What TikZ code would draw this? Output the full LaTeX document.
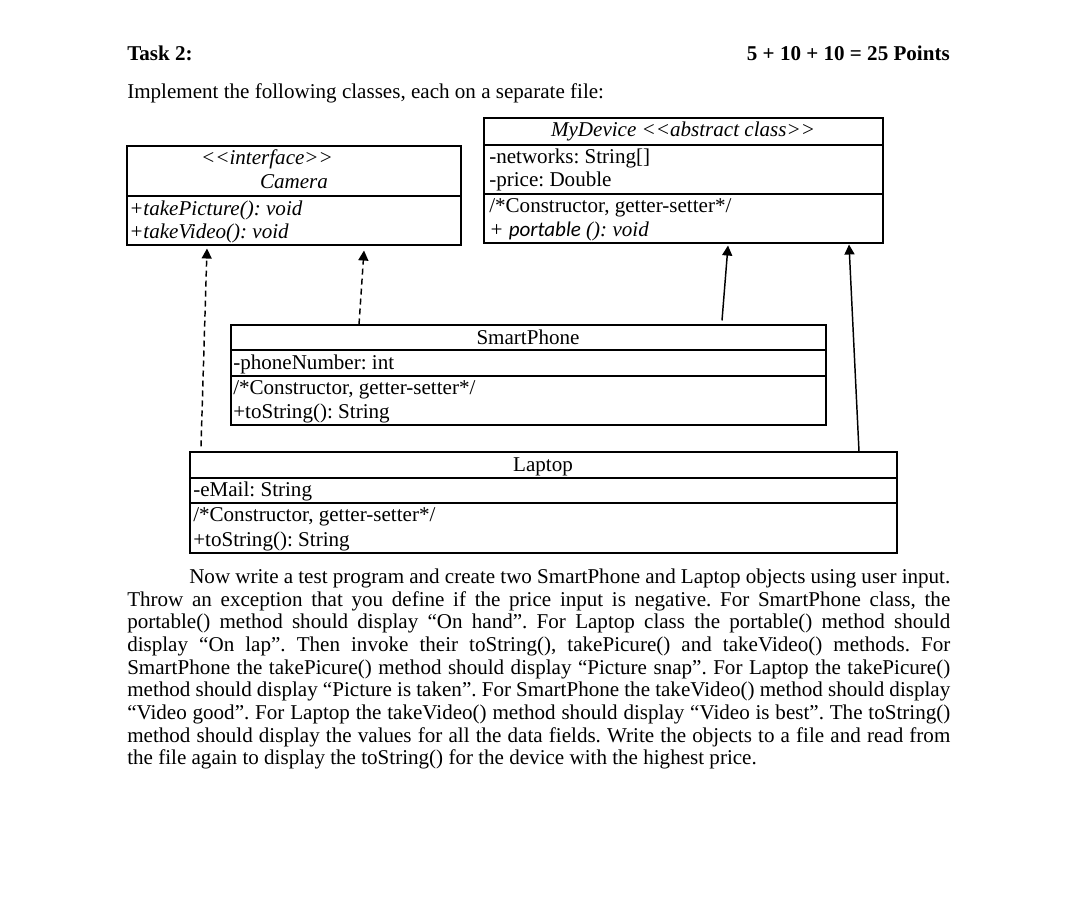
\documentclass[tikz,border=0pt]{standalone}
\usepackage{fontspec}
\setmainfont{Liberation Serif}
\newfontfamily\calib{Carlito}
\usetikzlibrary{arrows.meta,fit,calc}
\newcommand{\fz}{\fontsize{15.8pt}{17pt}\selectfont}
\newcommand{\ltlt}{<\kern0pt<}
\newcommand{\gtgt}{>\kern0pt>}
\frenchspacing
\begin{document}
\begin{tikzpicture}[x=0.75pt,y=-0.75pt,
  txt/.style={anchor=base west,inner sep=0pt,font=\fz},
  ctxt/.style={anchor=base,inner sep=0pt,font=\fz},
  umlbox/.style={draw,line width=0.8pt,inner sep=0pt},
  divider/.style={line width=0.8pt},
  real/.style={line width=1.1pt,-{Triangle[length=7.5pt,width=7.5pt]}},
  dep/.style={line width=1.1pt,dash pattern=on 4.5pt off 3pt,-{Triangle[length=7.5pt,width=7.5pt]}},
  pline/.style={anchor=base west,inner sep=0pt,font=\fz}]
\useasboundingbox (0,0) rectangle (1080,905);

% header
\node[txt,font=\fz\bfseries] (task) at (127,61) {Task 2:};
\node[anchor=base east,inner sep=0pt,font=\fz\bfseries] (pts) at (950,61) {5 + 10 + 10 = 25 Points};
\node[txt] (impl) at (127,99) {Implement the following classes, each on a separate file:};

% Camera
\node[umlbox,fit={(127,146)(461,245)}] (cam) {};
\draw[divider] (cam.west |- 0,196) -- (cam.east |- 0,196);
\node[ctxt,font=\fz\itshape] (camst) at (267,165) {\ltlt interface\gtgt};
\node[ctxt,font=\fz\itshape] (camnm) at (294,189) {Camera};
\node[txt,font=\fz\itshape] (cam1) at (129,216) {+takePicture(): void};
\node[txt,font=\fz\itshape] (cam2) at (129,239) {+takeVideo(): void};

% MyDevice
\node[umlbox,fit={(484,118)(883,243)}] (dev) {};
\draw[divider] (dev.west |- 0,145) -- (dev.east |- 0,145);
\draw[divider] (dev.west |- 0,194) -- (dev.east |- 0,194);
\node[ctxt,font=\fz\itshape] (devnm) at (683,137) {MyDevice \ltlt abstract class\gtgt};
\node[txt] (dev1) at (489,164) {-networks: String[]};
\node[txt] (dev2) at (489,187) {-price: Double};
\node[txt] (dev3) at (489,213) {/*Constructor, getter-setter*/};
\node[txt] (dev4) at (489,237) {\textit{+ }{\calib\itshape portable}\textit{ (): void}};

% SmartPhone
\node[umlbox,fit={(231,325)(826,425)}] (sp) {};
\draw[divider] (sp.west |- 0,350) -- (sp.east |- 0,350);
\draw[divider] (sp.west |- 0,376) -- (sp.east |- 0,376);
\node[ctxt] (spnm) at (528,344) {SmartPhone};
\node[txt] (sp1) at (233,369) {-phoneNumber: int};
\node[txt] (sp2) at (233,394) {/*Constructor, getter-setter*/};
\node[txt] (sp3) at (233,418) {+toString(): String};

% Laptop
\node[umlbox,fit={(190,452)(897,553)}] (lap) {};
\draw[divider] (lap.west |- 0,478) -- (lap.east |- 0,478);
\draw[divider] (lap.west |- 0,503) -- (lap.east |- 0,503);
\node[ctxt] (lapnm) at (543,471) {Laptop};
\node[txt] (lap1) at (193,496) {-eMail: String};
\node[txt] (lap2) at (193,521) {/*Constructor, getter-setter*/};
\node[txt] (lap3) at (193,546) {+toString(): String};

% connectors
\draw[dep] ($(lap.north -| 201,0)+(0,-5)$) -- ($(cam.south -| 207,0)+(0,3)$);
\draw[dep] (sp.north -| 359,0) -- ($(cam.south -| 364,0)+(0,5)$);
\draw[real] ($(sp.north -| 722,0)+(0,-4)$) -- ($(dev.south -| 728,0)+(0,2)$);
\draw[real] (lap.north -| 859,0) -- ($(dev.south -| 849,0)+(0,1)$);

% paragraph
\node[pline] (p1) at (189,583) {\makebox[570.75pt][s]{Now write a test program and create two SmartPhone and Laptop objects using user input.}};
\node[pline] (p2) at (127,606) {\makebox[617.25pt][s]{Throw an exception that you define if the price input is negative. For SmartPhone class, the}};
\node[pline] (p3) at (127,628) {\makebox[617.25pt][s]{portable() method should display “On hand”. For Laptop class the portable() method should}};
\node[pline] (p4) at (127,651) {\makebox[617.25pt][s]{display “On lap”. Then invoke their toString(), takePicure() and takeVideo() methods. For}};
\node[pline] (p5) at (127,674) {\makebox[617.25pt][s]{SmartPhone the takePicure() method should display “Picture snap”. For Laptop the takePicure()}};
\node[pline] (p6) at (127,696) {\makebox[617.25pt][s]{method should display “Picture is taken”. For SmartPhone the takeVideo() method should display}};
\node[pline] (p7) at (127,719) {\makebox[617.25pt][s]{“Video good”. For Laptop the takeVideo() method should display “Video is best”. The toString()}};
\node[pline] (p8) at (127,742) {\makebox[617.25pt][s]{method should display the values for all the data fields. Write the objects to a file and read from}};
\node[pline] (p9) at (127,764) {the file again to display the toString() for the device with the highest price.};
\end{tikzpicture}
\end{document}
